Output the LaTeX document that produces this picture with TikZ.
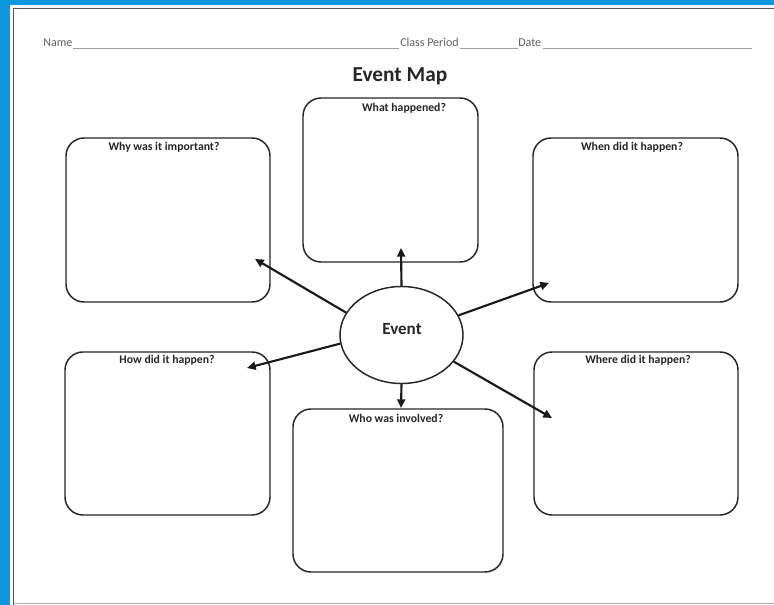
\documentclass[tikz,border=0pt]{standalone}
\usepackage{fontspec}
\setmainfont{Carlito}
\usetikzlibrary{arrows.meta,shapes.geometric}
\definecolor{frameblue}{RGB}{14,150,222}
\definecolor{pageline}{RGB}{85,85,85}
\definecolor{headgray}{RGB}{95,95,95}
\tikzset{
  qbox/.style={draw=black!85, line width=1.1pt, rounded corners=13.5pt, inner sep=0pt},
  qlabel/.style={font=\bfseries\fontsize{8.8}{10}\selectfont, text=black!85, inner sep=0pt, anchor=base},
  head/.style={font=\fontsize{9}{10}\selectfont, text=headgray, inner sep=0pt, anchor=base west},
  uline/.style={draw=gray!75, line width=0.7pt},
  arr/.style={draw=black!90, line width=1.6pt, -{Triangle[length=6.5pt,width=6pt]}},
}
\begin{document}
\begin{tikzpicture}[x=0.75pt,y=-0.75pt]
\useasboundingbox (0,0) rectangle (774,605);
% frame
\fill[frameblue] (0,0) rectangle (774,605);
\fill[white] (10,5) rectangle (774,605);
\draw[pageline, line width=1.3pt] (13.5,605) -- (13.5,8.5) -- (774,8.5);
\draw[gray!60, line width=0.8pt] (13.5,603.5) -- (774,603.5);
% header line
\node[head] (name) at (43,47) {Name};
\coordinate (n1) at (73,48);
\coordinate (n2) at (399,48);
\draw[uline] (n1) -- (n2);
\node[head] (period) at (400,47) {Class Period};
\coordinate (p1) at (460,48);
\coordinate (p2) at (518,48);
\draw[uline] (p1) -- (p2);
\node[head] (date) at (518,47) {Date};
\coordinate (d1) at (543,48);
\coordinate (d2) at (752,48);
\draw[uline] (d1) -- (d2);
% title
\node[font=\bfseries\fontsize{16}{18}\selectfont, text=black!85, inner sep=0pt, anchor=base] (title) at (400,82) {Event Map};
% boxes
\node[qbox, minimum width=131.25pt, minimum height=123pt] (what) at (390.5,180) {};
\node[qbox, minimum width=153pt, minimum height=123pt] (why) at (168,220) {};
\node[qbox, minimum width=153.75pt, minimum height=123pt] (when) at (635.5,220) {};
\node[qbox, minimum width=153.75pt, minimum height=122.25pt] (how) at (167.5,433.5) {};
\node[qbox, minimum width=157.5pt, minimum height=122.25pt] (who) at (398,490.5) {};
\node[qbox, minimum width=153pt, minimum height=122.25pt] (where) at (636,433.5) {};
% labels
\node[qlabel] (lwhat) at (404,112) {What happened?};
\node[qlabel] (lwhy) at (164,151) {Why was it important?};
\node[qlabel] (lwhen) at (632,151) {When did it happen?};
\node[qlabel] (lhow) at (167,364) {How did it happen?};
\node[qlabel] (lwho) at (396,423) {Who was involved?};
\node[qlabel] (lwhere) at (638,364) {Where did it happen?};
% central ellipse
\node[ellipse, draw=black!85, line width=1.1pt, fill=white, minimum width=92.25pt, minimum height=72.75pt, inner sep=0pt] (ev) at (401.5,335) {};
\node[font=\bfseries\fontsize{12.8}{14}\selectfont, text=black!85, inner sep=0pt, anchor=base] (evt) at (402,335) {Event};
% arrow tips
\coordinate (tup) at (401,248);
\coordinate (tlu) at (255,259);
\coordinate (tru) at (549,283);
\coordinate (tld) at (247,368);
\coordinate (trd) at (552,418);
\coordinate (tdn) at (401,408);
\draw[arr] (ev.90) -- (tup);
\draw[arr] (ev.158) -- (tlu);
\draw[arr] (ev.19.5) -- (tru);
\draw[arr] (ev.188) -- (tld);
\draw[arr] (ev.333) -- (trd);
\draw[arr] (ev.270) -- (tdn);
\end{tikzpicture}
\end{document}
